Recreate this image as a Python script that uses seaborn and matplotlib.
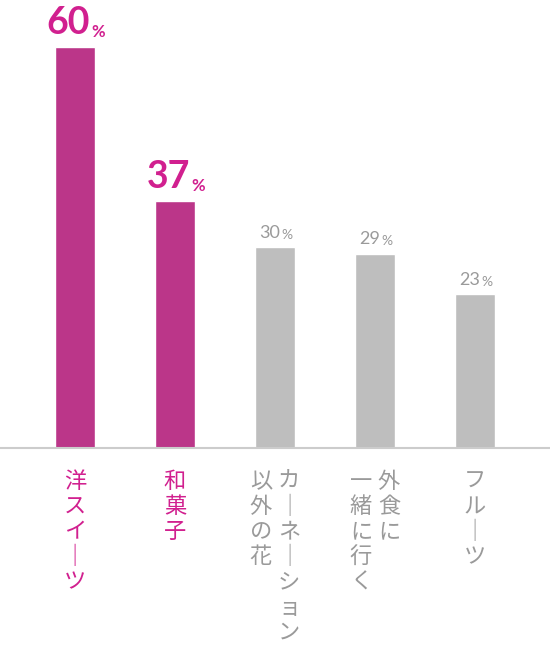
import matplotlib
matplotlib.use("Agg")
import matplotlib.pyplot as plt
import seaborn as sns
import pandas as pd

categories = ["洋スイーツ", "和菓子", "カーネーション以外の花", "外食に一緒に行く", "フルーツ"]
label_cols = [["洋スイーツ"], ["和菓子"], ["カーネーション", "以外の花"], ["外食に", "一緒に行く"], ["フルーツ"]]
values = [60, 37, 30, 29, 23]
highlight = [True, True, False, False, False]

MAG = "#D1208F"
GRAY = "#BEBEBE"
TGRAY = "#9A9A9A"

sns.set_style("white")
plt.rcParams['font.family'] = ['Noto Sans CJK JP', 'DejaVu Sans']

df = pd.DataFrame({"cat": categories, "val": values})
fig = plt.figure(figsize=(5.5, 6.56), dpi=100)
ax = fig.add_axes([0, 1 - 448/656, 1, 448/656])
pal = [MAG if h else GRAY for h in highlight]
sns.barplot(data=df, x="cat", y="val", hue="cat", palette=pal, width=0.4, ax=ax, legend=False)
ax.set_xlim(-0.75, 4.75)
ax.set_ylim(0, 67.0)
ax.axis("off")
ax.axhline(0, color="#CCCCCC", lw=1.5, clip_on=False)

fig.canvas.draw()
r = fig.canvas.get_renderer()
for i, (v, h) in enumerate(zip(values, highlight)):
    col = MAG if h else TGRAY
    fs = 27 if h else 13
    pfs = 12 if h else 10
    t = ax.text(i, v + 1.0, str(v), ha="center", va="bottom", fontsize=fs, color=col,
                fontweight="bold" if h else "normal", family=["Lato", "DejaVu Sans"])
    bb = t.get_window_extent(r)
    pw = ax.text(0, 0, "%", fontsize=pfs, family=["Lato", "DejaVu Sans"]).get_window_extent(r).width
    ax.texts[-1].remove()
    shift = pw / 2
    t.set_position((i, v + 1.0))
    # shift number left by half % width
    inv = ax.transData.inverted()
    x0 = inv.transform((ax.transData.transform((i, 0))[0] - shift, 0))[0]
    t.set_x(x0)
    bb = t.get_window_extent(r)
    xr = inv.transform((bb.x1 + 1, bb.y0))[0]
    ax.text(xr, v + 1.0, "%", ha="left", va="bottom", fontsize=pfs, color=col,
            fontweight="bold" if h else "normal", family=["Lato", "DejaVu Sans"])

# vertical labels
for i, cols in enumerate(label_cols):
    h = highlight[i]
    col = MAG if h else TGRAY
    n = len(cols)
    px = 100 * i + 75
    for j, s in enumerate(cols):
        xoff = (n - 1) / 2 * 28 - j * 28
        s2 = "\n".join("｜" if c == "ー" else c for c in s)
        fig.text((px + xoff) / 550, 1 - 470/656, s2, ha="center", va="top", fontsize=16,
                 color=col, linespacing=1.12, multialignment="center")

fig.savefig("out.png", dpi=100)
